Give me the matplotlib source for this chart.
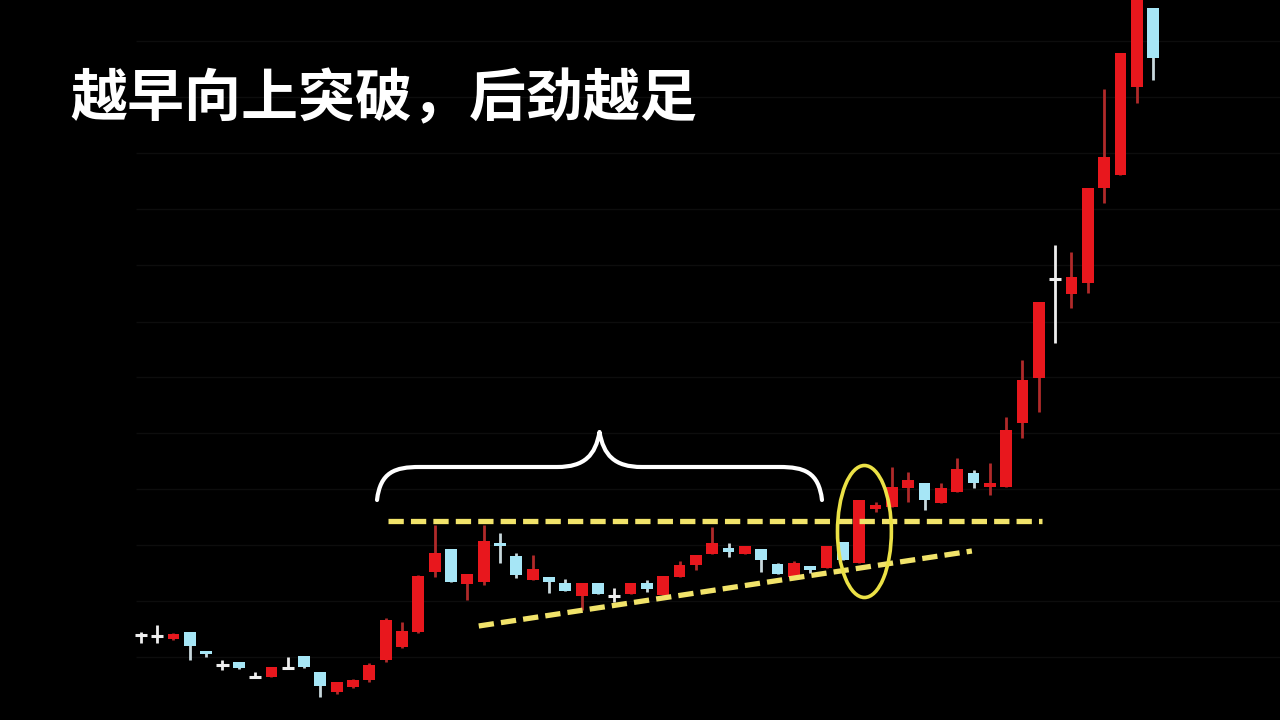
import matplotlib
matplotlib.use('Agg')
import matplotlib.pyplot as plt
from matplotlib.patches import Ellipse, PathPatch
from matplotlib.path import Path
import numpy as np

plt.rcParams['font.family'] = ['Noto Sans CJK SC', 'DejaVu Sans']

# K线数据 (开, 高, 低, 收)
opens = [85, 84, 81, 88, 69, 55, 58, 43, 43, 52, 64, 48, 28, 33, 40, 60, 73, 88, 148, 171,
         136, 138, 177, 164, 140, 143, 137, 124, 137, 124, 126, 137, 125, 143, 155, 166, 172, 166, 171, 156,
         143, 154, 152, 178, 157, 211, 213, 232, 237, 217, 228, 247, 233, 233, 297, 342, 441, 426, 437, 532,
         545, 633, 712]
highs = [88, 95, 87, 88, 69, 60, 58, 48, 53, 63, 64, 48, 38, 41, 57, 102, 98, 145, 195, 171,
         146, 195, 187, 167, 165, 143, 141, 137, 137, 132, 137, 140, 144, 159, 165, 193, 177, 174, 171, 157,
         159, 154, 174, 178, 220, 218, 253, 248, 237, 237, 262, 250, 257, 303, 360, 418, 475, 468, 532, 631,
         667, 725, 712]
lows = [77, 77, 80, 60, 63, 50, 51, 43, 43, 52, 52, 23, 26, 32, 38, 58, 72, 87, 143, 138,
        120, 135, 157, 142, 140, 127, 129, 110, 126, 118, 126, 128, 125, 143, 150, 166, 163, 166, 148, 146,
        143, 147, 152, 160, 157, 208, 213, 218, 210, 217, 228, 232, 225, 233, 282, 308, 377, 412, 427, 517,
        545, 617, 640]
closes = [85, 84, 86, 74, 66, 55, 52, 43, 53, 52, 53, 34, 38, 40, 55, 100, 89, 144, 167, 138,
          146, 179, 174, 145, 151, 138, 129, 137, 126, 124, 137, 131, 144, 155, 165, 177, 168, 174, 160, 146,
          157, 150, 174, 160, 220, 215, 233, 240, 220, 232, 251, 237, 237, 290, 340, 418, 441, 443, 532, 563,
          667, 725, 662]

grid_levels = [679, 623, 567, 511, 455, 398, 343, 287, 231, 175, 119, 63]
resistance = 199          # 水平压力线
support_start = (20.7, 94)
support_end = (50.9, 169)
title = '越早向上突破，后劲越足'

RED = '#e8171d'
CYAN = '#a6e6f6'
WHITE = '#eeeeee'
YELLOW_DASH = '#f1e36a'
YELLOW_RING = '#ebe146'

o = np.array(opens)
h = np.array(highs)
l = np.array(lows)
c = np.array(closes)
x = np.arange(len(o))

fig = plt.figure(figsize=(12.8, 7.2), dpi=100, facecolor='black')
ax = fig.add_axes([0, 0, 1, 1])
ax.set_facecolor('black')
ax.set_xlim(-8.62, 69.77)
ax.set_ylim(0, 720)
ax.axis('off')

# 背景网格
ax.hlines(grid_levels, -0.3, 69.8, color='#0d0d0d', lw=1, zorder=0)

up = c > o
down = c < o
flat = c == o

body_colors = np.where(up, RED, np.where(down, CYAN, WHITE))
wick_colors = np.where(up, '#b02a2a', np.where(down, '#c8d8dc', WHITE))

ax.vlines(x, l, h, colors=wick_colors, lw=2, zorder=2)
w = 0.72
body_h = np.where(flat, 0, c - o)
ax.bar(x[~flat], body_h[~flat], bottom=o[~flat], width=w,
       color=body_colors[~flat], edgecolor='none', zorder=3)
ax.hlines(o[flat], x[flat] - 0.38, x[flat] + 0.38, colors=WHITE, lw=2.2, zorder=3)

# 黄色虚线
ax.plot([15.14, 55.2], [resistance, resistance], color=YELLOW_DASH, lw=3.8,
        linestyle=(0, (2.9, 1.35)), dash_capstyle='butt', zorder=4)
ax.plot([support_start[0], support_end[0]], [support_start[1], support_end[1]],
        color=YELLOW_DASH, lw=3.8, linestyle=(0, (2.9, 1.35)), dash_capstyle='butt', zorder=4)

# 突破处的椭圆
ax.add_patch(Ellipse((44.32, 188.5), 3.3, 132, fill=False, edgecolor=YELLOW_RING, lw=2.6, zorder=5))


# 大括号
def brace(x0, x1, y_end, y_flat, y_tip, r=2.6):
    xm = (x0 + x1) / 2
    verts = [(x0, y_end),
             (x0 + 0.2, y_flat - 5), (x0 + 1.1, y_flat), (x0 + r, y_flat),
             (xm - r, y_flat),
             (xm - 0.9, y_flat), (xm - 0.25, y_flat + 12), (xm, y_tip),
             (xm + 0.25, y_flat + 12), (xm + 0.9, y_flat), (xm + r, y_flat),
             (x1 - r, y_flat),
             (x1 - 1.1, y_flat), (x1 - 0.2, y_flat - 5), (x1, y_end)]
    codes = [Path.MOVETO,
             Path.CURVE4, Path.CURVE4, Path.CURVE4,
             Path.LINETO,
             Path.CURVE4, Path.CURVE4, Path.CURVE4,
             Path.CURVE4, Path.CURVE4, Path.CURVE4,
             Path.LINETO,
             Path.CURVE4, Path.CURVE4, Path.CURVE4]
    return PathPatch(Path(verts, codes), fill=False, edgecolor='white', lw=3, capstyle='round',
                     joinstyle='round', zorder=5)


ax.add_patch(brace(14.47, 41.72, 220, 253, 288))

fig.text(0.0547, 0.862, title, color='white', fontsize=41, fontweight='bold',
         ha='left', va='center')

plt.savefig('out.png', dpi=100, facecolor='black')
